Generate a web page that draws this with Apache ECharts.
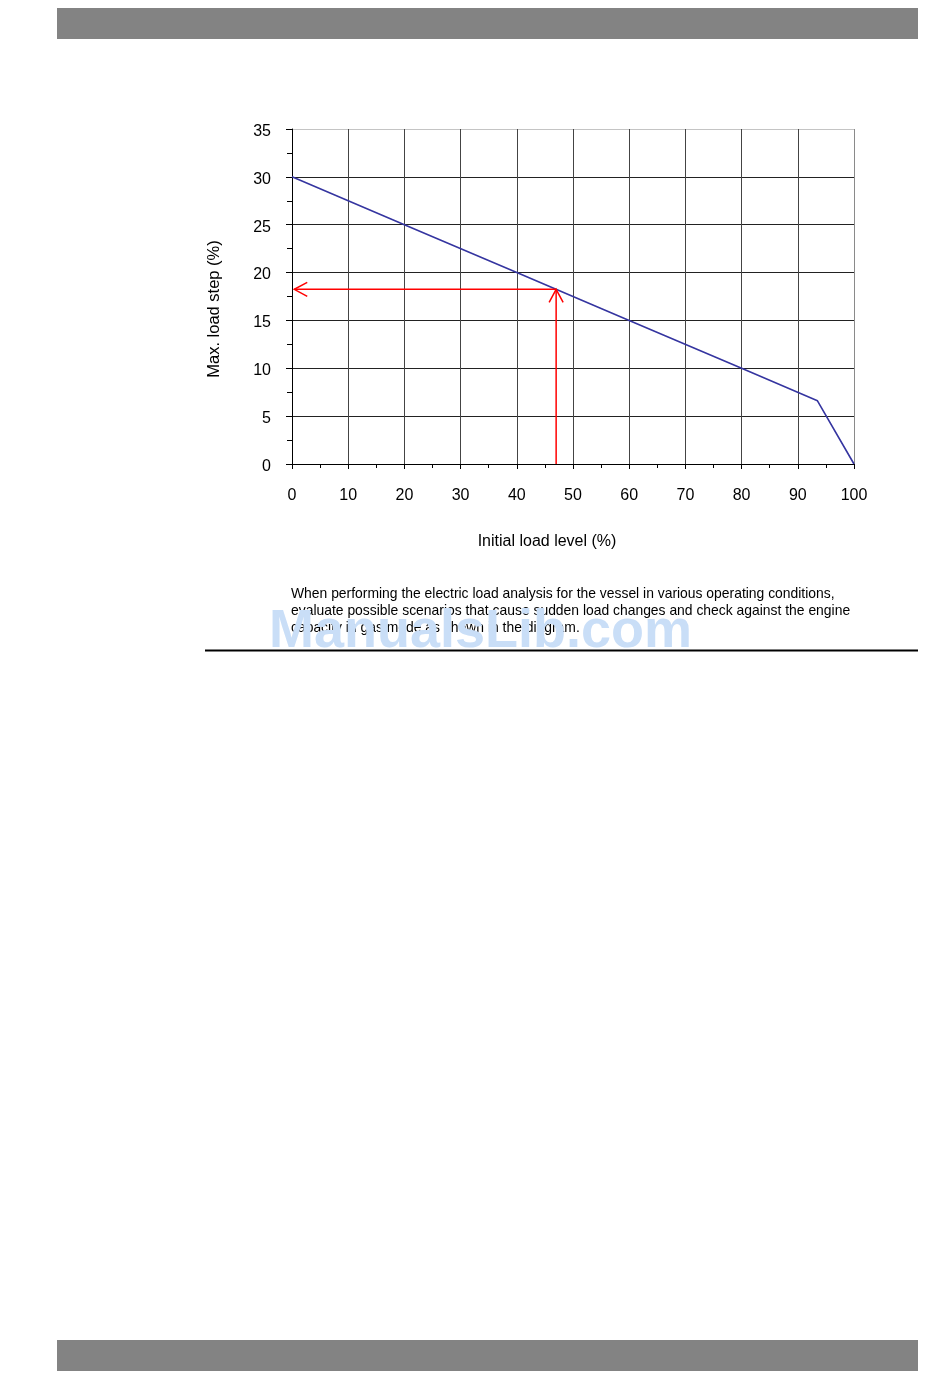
<!DOCTYPE html>
<html>
<head>
<meta charset="utf-8">
<script src="https://cdn.jsdelivr.net/npm/echarts@6/dist/echarts.min.js"></script>
<style>
html,body{margin:0;padding:0;background:#fff;}
#chart{width:950px;height:1378px;}
</style>
</head>
<body>
<div id="chart"></div>
<script>
// ---- data ----
var curveX = [0, 20, 40, 60, 80, 93.5, 100];
var curveY = [30, 25, 20, 15, 10, 6.6, 0];
// red guide: from x-axis up to the curve, then left to the y-axis
var guideX = 47;
var guideY = 18.25;
var guideEndX = 0.4;
var xTicks = [0, 10, 20, 30, 40, 50, 60, 70, 80, 90, 100];
var yTicks = [0, 5, 10, 15, 20, 25, 30, 35];
var xTitle = 'Initial load level (%)';
var yTitle = 'Max. load step (%)';
var noteLines = [
  'When performing the electric load analysis for the vessel in various operating conditions,',
  'evaluate possible scenarios that cause sudden load changes and check against the engine',
  'capacity in gas mode as shown in the diagram.'
];

var curveData = curveX.map(function (x, i) { return [x, curveY[i]]; });
var guideData = [
  [guideX, 0, guideX, guideY],
  [guideX, guideY, guideEndX, guideY]
];

var FONT = '"Liberation Sans", Arial, sans-serif';
var chart = echarts.init(document.getElementById('chart'), null, {renderer: 'canvas'});

var xSplitColors = xTicks.map(function (v, i) { return i === xTicks.length - 1 ? '#8a8a8a' : '#444444'; });
var ySplitColors = yTicks.map(function (v, i) { return i === yTicks.length - 1 ? '#c4c4c4' : '#222222'; });

chart.setOption({
  animation: false,
  backgroundColor: '#ffffff',
  grid: {left: 292, right: 96, top: 129, bottom: 914, containLabel: false},
  xAxis: {
    type: 'value', min: xTicks[0], max: xTicks[xTicks.length - 1], interval: 10,
    axisLine: {show: true, onZero: false, lineStyle: {color: '#000', width: 1}},
    axisTick: {show: true, inside: false, length: 5, lineStyle: {color: '#000'}},
    minorTick: {show: true, splitNumber: 2, length: 4, lineStyle: {color: '#000'}},
    axisLabel: {color: '#000', fontSize: 16, fontFamily: FONT, margin: 24},
    splitLine: {show: true, lineStyle: {color: xSplitColors, width: 1}}
  },
  yAxis: {
    type: 'value', min: yTicks[0], max: yTicks[yTicks.length - 1], interval: 5,
    axisLine: {show: true, onZero: false, lineStyle: {color: '#000', width: 1}},
    axisTick: {show: true, inside: false, length: 6, lineStyle: {color: '#000'}},
    minorTick: {show: true, splitNumber: 2, length: 5, lineStyle: {color: '#000'}},
    axisLabel: {
      color: '#000', fontSize: 16, fontFamily: FONT, margin: 21,
      formatter: '{a|{value}}',
      rich: {a: {color: '#000', fontSize: 16, fontFamily: FONT, lineHeight: 16, padding: [5, 0, 0, 0]}}
    },
    splitLine: {show: true, lineStyle: {color: ySplitColors, width: 1}}
  },
  series: [
    {
      type: 'line', data: curveData, symbol: 'none', silent: true,
      lineStyle: {color: '#3535a0', width: 1.6}, z: 3
    },
    {
      type: 'custom', data: guideData, silent: true, z: 4,
      renderItem: function (params, api) {
        var p1 = api.coord([api.value(0), api.value(1)]);
        var p2 = api.coord([api.value(2), api.value(3)]);
        var dx = p2[0] - p1[0], dy = p2[1] - p1[1];
        var len = Math.sqrt(dx * dx + dy * dy) || 1;
        var ux = dx / len, uy = dy / len;
        var L = 13, W = 7;
        var bx = p2[0] - ux * L, by = p2[1] - uy * L;
        var a1 = [bx - uy * W, by + ux * W];
        var a2 = [bx + uy * W, by - ux * W];
        var st = {stroke: '#ff0000', lineWidth: 1.5, fill: null};
        return {
          type: 'group',
          children: [
            {type: 'line', shape: {x1: p1[0], y1: p1[1], x2: p2[0], y2: p2[1]}, style: st},
            {type: 'polyline', shape: {points: [a1, p2, a2]}, style: st}
          ]
        };
      }
    }
  ],
  graphic: [
    {type: 'rect', shape: {x: 57, y: 8, width: 861, height: 31}, style: {fill: '#838383'}},
    {type: 'rect', shape: {x: 57, y: 1340, width: 861, height: 31}, style: {fill: '#838383'}},
    {type: 'text', x: 547, y: 542, style: {text: xTitle, font: '16px ' + FONT, fill: '#000', textAlign: 'center', textVerticalAlign: 'middle'}},
    {type: 'text', x: 214, y: 309, rotation: Math.PI / 2, style: {text: yTitle, font: '16.5px ' + FONT, fill: '#000', textAlign: 'center', textVerticalAlign: 'middle'}},
    {type: 'text', x: 291, y: 586, style: {text: noteLines.join('\n'), font: '13.9px ' + FONT, fill: '#000', lineHeight: 17, textAlign: 'left', textVerticalAlign: 'top'}},
    {type: 'line', shape: {x1: 205, y1: 650.5, x2: 918, y2: 650.5}, style: {stroke: '#000', lineWidth: 2}, z: 10},
    {type: 'text', x: 269, y: 632, z: 20, style: {text: 'ManualsLib.com', font: 'bold 54px ' + FONT, fill: '#c9def7', textAlign: 'left', textVerticalAlign: 'middle'}}
  ]
});
</script>
</body>
</html>
